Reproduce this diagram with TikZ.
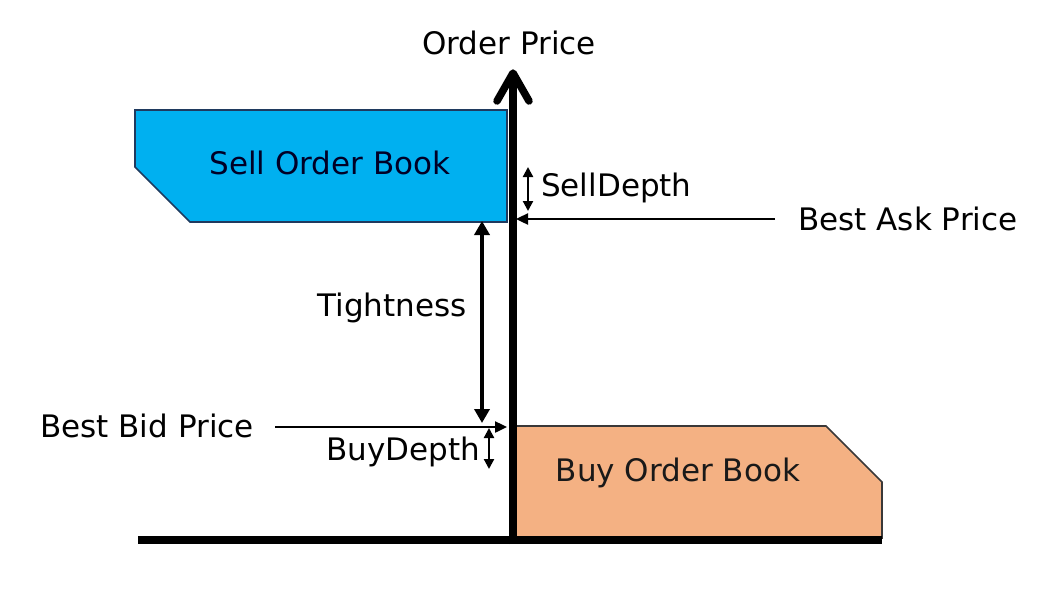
\documentclass[tikz,border=0pt]{standalone}
\usepackage{fontspec}
\setmainfont{DejaVu Sans}
\usetikzlibrary{arrows.meta}
\definecolor{sellfill}{HTML}{00B0F0}
\definecolor{sellline}{HTML}{1F3A5F}
\definecolor{buyfill}{HTML}{F4B183}
\definecolor{buyline}{HTML}{3A3838}
\begin{document}
\begin{tikzpicture}[x=1pt,y=-1pt,
  lbl/.style={inner sep=0pt, font=\fontsize{31}{37}\selectfont},
  thinarrow/.style={line width=2.4pt, -{Triangle[length=12pt,width=11pt]}},
  thindouble/.style={line width=2.2pt, {Triangle[length=10pt,width=10pt]}-{Triangle[length=10pt,width=10pt]}},
  thickdouble/.style={line width=4.5pt, {Triangle[length=14pt,width=15pt]}-{Triangle[length=14pt,width=15pt]}},
  axis/.style={line width=7.5pt}]
\useasboundingbox (0,0) rectangle (1044,597);
% order books
\draw[fill=sellfill, draw=sellline, line width=1.6pt] (135,110) -- (507,110) -- (507,222) -- (190,222) -- (135,167) -- cycle;
\draw[fill=buyfill, draw=buyline, line width=1.6pt] (513,426) -- (826,426) -- (882,482) -- (882,538) -- (513,538) -- cycle;
\node[lbl, text=black!85!blue] (sell) at (330,163) {Sell Order Book};
\node[lbl, text=black!90] (buy) at (678,473) {Buy Order Book};
% axes
\coordinate (origin) at (513,540);
\coordinate (ytip) at (513,73);
\coordinate (xend) at (882,540);
\coordinate (xstart) at (138,540);
\draw[axis] (xstart) -- (xend);
\draw[axis] (513,544) -- (ytip);
\draw[axis, line cap=round, line join=round] (497,101) -- (ytip) -- (529,101);
\node[lbl] (yl) at (509,43) {Order Price};
% best ask
\node[lbl, anchor=west] (ask) at (798,219) {Best Ask Price};
\coordinate (askend) at (516,219);
\draw[thinarrow] (775,219) -- (askend);
% sell depth
\coordinate (sd1) at (528,167);
\coordinate (sd2) at (528,211);
\draw[thindouble] (sd1) -- (sd2);
\node[lbl, anchor=west] (sdl) at (541,188) {SellDepth};
% tightness
\coordinate (t1) at (482,221);
\coordinate (t2) at (482,423);
\draw[thickdouble] (t1) -- (t2);
\node[lbl] (tl) at (392,308) {Tightness};
% best bid
\node[lbl, anchor=west] (bid) at (40,426) {Best Bid Price};
\coordinate (bidend) at (507,427);
\draw[thinarrow] (275,427) -- (bidend);
% buy depth
\coordinate (bd1) at (489,428);
\coordinate (bd2) at (489,469);
\draw[thindouble] (bd1) -- (bd2);
\node[lbl, anchor=east] (bdl) at (480,452) {BuyDepth};
\end{tikzpicture}
\end{document}
